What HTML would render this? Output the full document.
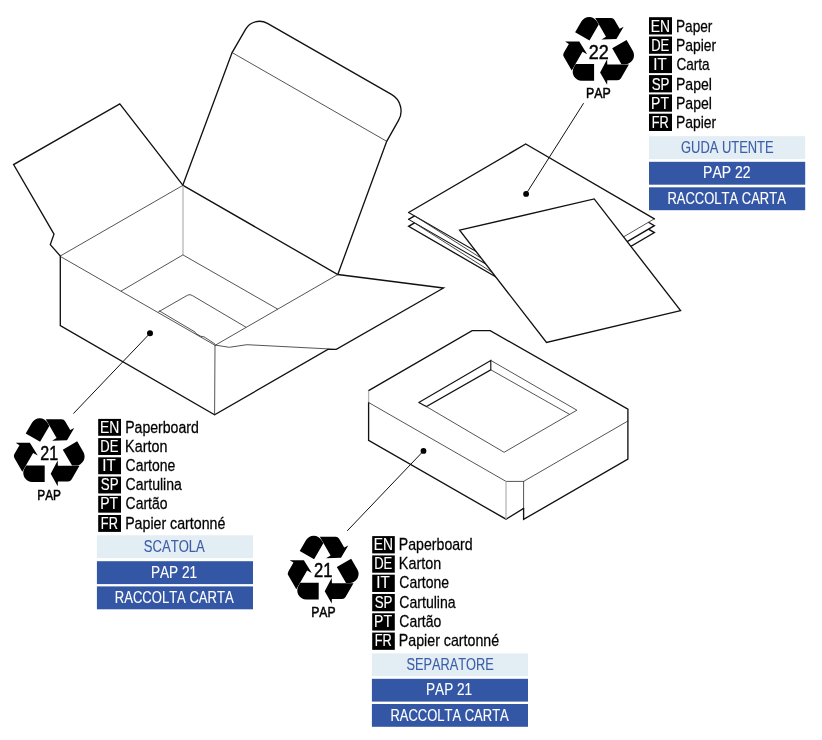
<!DOCTYPE html>
<html><head><meta charset="utf-8"><style>
html,body{margin:0;padding:0;background:#fff;width:822px;height:740px;overflow:hidden;position:relative}
text{font-family:"Liberation Sans", sans-serif;}
svg{will-change:transform}
</style></head><body>
<svg width="822" height="740" viewBox="0 0 822 740" style="position:absolute;left:0;top:0">
<defs><path id="rc" d="M-22.946,13.1 L-4.5,13.1 L-4.5,29.7 L-16.942,29.700 A9.0,9.0 0 0 1 -24.736,16.200 Z M1.5,21.45 L8.5,8.25 L8.7,13.55 L30.3,13.55 L22.361,27.300 A4.0,4.0 0 0 1 18.897,29.300 L8.7,29.3 L8.5,33.85 Z"/></defs>
<g font-family="Liberation Sans, sans-serif" style="font-kerning:none">
<rect x="649.00" y="17.20" width="23.00" height="17.30" fill="#000"/>
<text transform="translate(650.86,31.80) scale(0.8087,1)" font-size="17.15" fill="#fff"  stroke="#fff" stroke-width="0.15" vector-effect="non-scaling-stroke">EN</text>
<text transform="translate(675.98,31.80) scale(0.7963,1)" font-size="17.15" fill="#000"  stroke="#000" stroke-width="0.25" vector-effect="non-scaling-stroke">Paper</text>
<rect x="649.00" y="36.50" width="23.00" height="17.30" fill="#000"/>
<text transform="translate(651.18,51.10) scale(0.7610,1)" font-size="17.15" fill="#fff"  stroke="#fff" stroke-width="0.15" vector-effect="non-scaling-stroke">DE</text>
<text transform="translate(675.96,51.10) scale(0.8123,1)" font-size="17.15" fill="#000"  stroke="#000" stroke-width="0.25" vector-effect="non-scaling-stroke">Papier</text>
<rect x="649.00" y="55.80" width="23.00" height="17.30" fill="#000"/>
<text transform="translate(653.25,70.40) scale(0.8820,1)" font-size="17.15" fill="#fff"  stroke="#fff" stroke-width="0.15" vector-effect="non-scaling-stroke">IT</text>
<text transform="translate(676.41,70.40) scale(0.7938,1)" font-size="17.15" fill="#000"  stroke="#000" stroke-width="0.25" vector-effect="non-scaling-stroke">Carta</text>
<rect x="649.00" y="75.10" width="23.00" height="17.30" fill="#000"/>
<text transform="translate(651.64,89.70) scale(0.7784,1)" font-size="17.15" fill="#fff"  stroke="#fff" stroke-width="0.15" vector-effect="non-scaling-stroke">SP</text>
<text transform="translate(675.95,89.70) scale(0.8206,1)" font-size="17.15" fill="#000"  stroke="#000" stroke-width="0.25" vector-effect="non-scaling-stroke">Papel</text>
<rect x="649.00" y="94.40" width="23.00" height="17.30" fill="#000"/>
<text transform="translate(651.10,109.00) scale(0.8202,1)" font-size="17.15" fill="#fff"  stroke="#fff" stroke-width="0.15" vector-effect="non-scaling-stroke">PT</text>
<text transform="translate(675.95,109.00) scale(0.8206,1)" font-size="17.15" fill="#000"  stroke="#000" stroke-width="0.25" vector-effect="non-scaling-stroke">Papel</text>
<rect x="649.00" y="113.70" width="23.00" height="17.30" fill="#000"/>
<text transform="translate(651.75,128.30) scale(0.7454,1)" font-size="17.15" fill="#fff"  stroke="#fff" stroke-width="0.15" vector-effect="non-scaling-stroke">FR</text>
<text transform="translate(675.96,128.30) scale(0.8123,1)" font-size="17.15" fill="#000"  stroke="#000" stroke-width="0.25" vector-effect="non-scaling-stroke">Papier</text>
<rect x="649.00" y="136.20" width="156.20" height="22.90" fill="#e3edf4"/>
<text transform="translate(681.05,152.80) scale(0.7533,1)" font-size="17.15" fill="#3d5ea8"  stroke="#3d5ea8" stroke-width="0.12" vector-effect="non-scaling-stroke">GUDA UTENTE</text>
<rect x="649.00" y="161.80" width="156.20" height="22.90" fill="#3457a5"/>
<text transform="translate(703.05,178.40) scale(0.8158,1)" font-size="17.15" fill="#fff"  stroke="#fff" stroke-width="0.12" vector-effect="non-scaling-stroke">PAP 22</text>
<rect x="649.00" y="187.30" width="156.20" height="22.90" fill="#3457a5"/>
<text transform="translate(667.43,203.90) scale(0.7582,1)" font-size="17.15" fill="#fff"  stroke="#fff" stroke-width="0.12" vector-effect="non-scaling-stroke">RACCOLTA CARTA</text>
<rect x="98.20" y="418.90" width="22.80" height="16.90" fill="#000"/>
<text transform="translate(99.96,432.60) scale(0.8227,1)" font-size="16.86" fill="#fff"  stroke="#fff" stroke-width="0.15" vector-effect="non-scaling-stroke">EN</text>
<text transform="translate(125.14,432.60) scale(0.8372,1)" font-size="16.86" fill="#000"  stroke="#000" stroke-width="0.25" vector-effect="non-scaling-stroke">Paperboard</text>
<rect x="98.20" y="438.12" width="22.80" height="16.90" fill="#000"/>
<text transform="translate(100.28,451.82) scale(0.7741,1)" font-size="16.86" fill="#fff"  stroke="#fff" stroke-width="0.15" vector-effect="non-scaling-stroke">DE</text>
<text transform="translate(125.12,451.82) scale(0.8517,1)" font-size="16.86" fill="#000"  stroke="#000" stroke-width="0.25" vector-effect="non-scaling-stroke">Karton</text>
<rect x="98.20" y="457.34" width="22.80" height="16.90" fill="#000"/>
<text transform="translate(102.35,471.04) scale(0.8972,1)" font-size="16.86" fill="#fff"  stroke="#fff" stroke-width="0.15" vector-effect="non-scaling-stroke">IT</text>
<text transform="translate(125.59,471.04) scale(0.8291,1)" font-size="16.86" fill="#000"  stroke="#000" stroke-width="0.25" vector-effect="non-scaling-stroke">Cartone</text>
<rect x="98.20" y="476.56" width="22.80" height="16.90" fill="#000"/>
<text transform="translate(100.74,490.26) scale(0.7919,1)" font-size="16.86" fill="#fff"  stroke="#fff" stroke-width="0.15" vector-effect="non-scaling-stroke">SP</text>
<text transform="translate(125.59,490.26) scale(0.8346,1)" font-size="16.86" fill="#000"  stroke="#000" stroke-width="0.25" vector-effect="non-scaling-stroke">Cartulina</text>
<rect x="98.20" y="495.78" width="22.80" height="16.90" fill="#000"/>
<text transform="translate(100.20,509.48) scale(0.8344,1)" font-size="16.86" fill="#fff"  stroke="#fff" stroke-width="0.15" vector-effect="non-scaling-stroke">PT</text>
<text transform="translate(125.59,509.48) scale(0.8278,1)" font-size="16.86" fill="#000"  stroke="#000" stroke-width="0.25" vector-effect="non-scaling-stroke">Cartão</text>
<rect x="98.20" y="515.00" width="22.80" height="16.90" fill="#000"/>
<text transform="translate(100.85,528.70) scale(0.7582,1)" font-size="16.86" fill="#fff"  stroke="#fff" stroke-width="0.15" vector-effect="non-scaling-stroke">FR</text>
<text transform="translate(125.13,528.70) scale(0.8426,1)" font-size="16.86" fill="#000"  stroke="#000" stroke-width="0.25" vector-effect="non-scaling-stroke">Papier cartonné</text>
<rect x="96.90" y="535.30" width="156.10" height="22.90" fill="#e3edf4"/>
<text transform="translate(143.81,552.40) scale(0.7621,1)" font-size="17.15" fill="#3d5ea8"  stroke="#3d5ea8" stroke-width="0.12" vector-effect="non-scaling-stroke">SCATOLA</text>
<rect x="96.90" y="561.20" width="156.10" height="22.90" fill="#3457a5"/>
<text transform="translate(150.88,577.80) scale(0.7958,1)" font-size="17.15" fill="#fff"  stroke="#fff" stroke-width="0.12" vector-effect="non-scaling-stroke">PAP 21</text>
<rect x="96.90" y="586.40" width="156.10" height="22.90" fill="#3457a5"/>
<text transform="translate(114.83,603.00) scale(0.7607,1)" font-size="17.15" fill="#fff"  stroke="#fff" stroke-width="0.12" vector-effect="non-scaling-stroke">RACCOLTA CARTA</text>
<rect x="372.20" y="536.10" width="22.60" height="17.30" fill="#000"/>
<text transform="translate(373.86,549.80) scale(0.8156,1)" font-size="17.01" fill="#fff"  stroke="#fff" stroke-width="0.15" vector-effect="non-scaling-stroke">EN</text>
<text transform="translate(398.84,549.80) scale(0.8312,1)" font-size="17.01" fill="#000"  stroke="#000" stroke-width="0.25" vector-effect="non-scaling-stroke">Paperboard</text>
<rect x="372.20" y="555.39" width="22.60" height="17.30" fill="#000"/>
<text transform="translate(374.18,569.09) scale(0.7675,1)" font-size="17.01" fill="#fff"  stroke="#fff" stroke-width="0.15" vector-effect="non-scaling-stroke">DE</text>
<text transform="translate(398.82,569.09) scale(0.8465,1)" font-size="17.01" fill="#000"  stroke="#000" stroke-width="0.25" vector-effect="non-scaling-stroke">Karton</text>
<rect x="372.20" y="574.68" width="22.60" height="17.30" fill="#000"/>
<text transform="translate(376.25,588.38) scale(0.8895,1)" font-size="17.01" fill="#fff"  stroke="#fff" stroke-width="0.15" vector-effect="non-scaling-stroke">IT</text>
<text transform="translate(399.29,588.38) scale(0.8237,1)" font-size="17.01" fill="#000"  stroke="#000" stroke-width="0.25" vector-effect="non-scaling-stroke">Cartone</text>
<rect x="372.20" y="593.97" width="22.60" height="17.30" fill="#000"/>
<text transform="translate(374.64,607.67) scale(0.7851,1)" font-size="17.01" fill="#fff"  stroke="#fff" stroke-width="0.15" vector-effect="non-scaling-stroke">SP</text>
<text transform="translate(399.28,607.67) scale(0.8289,1)" font-size="17.01" fill="#000"  stroke="#000" stroke-width="0.25" vector-effect="non-scaling-stroke">Cartulina</text>
<rect x="372.20" y="613.26" width="22.60" height="17.30" fill="#000"/>
<text transform="translate(374.10,626.96) scale(0.8272,1)" font-size="17.01" fill="#fff"  stroke="#fff" stroke-width="0.15" vector-effect="non-scaling-stroke">PT</text>
<text transform="translate(399.29,626.96) scale(0.8228,1)" font-size="17.01" fill="#000"  stroke="#000" stroke-width="0.25" vector-effect="non-scaling-stroke">Cartão</text>
<rect x="372.20" y="632.55" width="22.60" height="17.30" fill="#000"/>
<text transform="translate(374.75,646.25) scale(0.7518,1)" font-size="17.01" fill="#fff"  stroke="#fff" stroke-width="0.15" vector-effect="non-scaling-stroke">FR</text>
<text transform="translate(398.83,646.25) scale(0.8362,1)" font-size="17.01" fill="#000"  stroke="#000" stroke-width="0.25" vector-effect="non-scaling-stroke">Papier cartonné</text>
<rect x="371.90" y="653.40" width="156.10" height="22.80" fill="#e3edf4"/>
<text transform="translate(406.42,670.00) scale(0.7458,1)" font-size="17.15" fill="#3d5ea8"  stroke="#3d5ea8" stroke-width="0.12" vector-effect="non-scaling-stroke">SEPARATORE</text>
<rect x="371.90" y="678.80" width="156.10" height="22.80" fill="#3457a5"/>
<text transform="translate(425.98,695.40) scale(0.7940,1)" font-size="17.15" fill="#fff"  stroke="#fff" stroke-width="0.12" vector-effect="non-scaling-stroke">PAP 21</text>
<rect x="371.90" y="704.00" width="156.10" height="22.80" fill="#3457a5"/>
<text transform="translate(390.43,720.60) scale(0.7575,1)" font-size="17.15" fill="#fff"  stroke="#fff" stroke-width="0.12" vector-effect="non-scaling-stroke">RACCOLTA CARTA</text>
<g transform="translate(49.2,452.3)"><use href="#rc"/><use href="#rc" transform="rotate(120)"/><use href="#rc" transform="rotate(240)"/></g>
<text transform="translate(40.29,459.50) scale(0.7942,1)" font-size="20.19" fill="#000"  stroke="#000" stroke-width="0.45" vector-effect="non-scaling-stroke">21</text>
<text transform="translate(37.33,499.70) scale(0.8147,1)" font-size="14.54" fill="#000"  stroke="#000" stroke-width="0.45" vector-effect="non-scaling-stroke">PAP</text>
<g transform="translate(598.6,51.0)"><use href="#rc"/><use href="#rc" transform="rotate(120)"/><use href="#rc" transform="rotate(240)"/></g>
<text transform="translate(588.80,58.60) scale(0.9036,1)" font-size="19.91" fill="#000"  stroke="#000" stroke-width="0.45" vector-effect="non-scaling-stroke">22</text>
<text transform="translate(585.88,97.80) scale(0.8516,1)" font-size="14.54" fill="#000"  stroke="#000" stroke-width="0.45" vector-effect="non-scaling-stroke">PAP</text>
<g transform="translate(323.2,569.7)"><use href="#rc"/><use href="#rc" transform="rotate(120)"/><use href="#rc" transform="rotate(240)"/></g>
<text transform="translate(313.97,576.80) scale(0.8450,1)" font-size="19.62" fill="#000"  stroke="#000" stroke-width="0.45" vector-effect="non-scaling-stroke">21</text>
<text transform="translate(311.20,616.60) scale(0.8204,1)" font-size="14.83" fill="#000"  stroke="#000" stroke-width="0.45" vector-effect="non-scaling-stroke">PAP</text>
<path d="M183.0,185.3 L119.8,103.9 L13.6,164.6 L54.0,234.1 L50.3,244.6 L60.3,256.0 L60.3,325.7 L214.6,414.8 L328.3,349.2 L336.3,349.3 L443.5,288.0 L337.8,274.5 L183.0,185.3" stroke="#111" stroke-width="1.34" fill="none" stroke-linejoin="miter" stroke-linecap="round"/>
<path d="M182.7,185.6 L232.1,52.6 L245.55,29.31 A16,16 0 0 1 267.43,23.41 L391.41,94.45 A19,19 0 0 1 398.53,120.43 L386.7,141.3 L337.8,274.5" stroke="#111" stroke-width="1.34" fill="none" stroke-linejoin="miter" stroke-linecap="round"/>
<path d="M232.1,52.6 L386.7,141.3" stroke="#2a2a2a" stroke-width="0.8" fill="none" stroke-linecap="round"/>
<path d="M60.3,256.0 L183.0,185.3" stroke="#2a2a2a" stroke-width="0.8" fill="none" stroke-linecap="round"/>
<path d="M183.0,185.8 L183.0,254.9" stroke="#b6b6b6" stroke-width="1.3" fill="none"/>
<path d="M121.2,291.0 L182.9,254.9 L277.5,309.0" stroke="#2a2a2a" stroke-width="0.8" fill="none" stroke-linecap="round"/>
<path d="M60.3,256.4 L215.1,345.3 L337.8,274.5" stroke="#2a2a2a" stroke-width="0.8" fill="none" stroke-linecap="round"/>
<path d="M215.0,345.1 L214.6,414.8" stroke="#2a2a2a" stroke-width="0.8" fill="none" stroke-linecap="round"/>
<path d="M158.6,311.8 L187.5,295.2 L190.0,294.6 L192.8,295.8 L245.8,327.1" stroke="#2a2a2a" stroke-width="0.8" fill="none" stroke-linecap="round"/>
<path d="M159.5,311.0 L195.0,332.0 L196.0,333.6 L201.0,336.4 L204.0,336.8 L214.5,343.6" stroke="#2a2a2a" stroke-width="0.8" fill="none" stroke-linecap="round"/>
<path d="M215.1,345.1 L229.3,347.3 L246.9,344.7 L328.3,348.9" stroke="#2a2a2a" stroke-width="0.8" fill="none" stroke-linecap="round"/>
<circle cx="150.0" cy="333.3" r="3.0" fill="#000"/>
<path d="M150.0,333.3 L73.4,413.6" stroke="#111" stroke-width="1.0" fill="none"/>
<path d="M525.7,157.8 L654.4,232.60000000000002 L537.2,301.3 L408.6,226.3 Z" fill="#fff" stroke="none"/>
<path d="M498.6,278.5 L408.6,226.3 L525.7,157.8 L654.4,232.60000000000002 L537.2,301.3" stroke="#111" stroke-width="1.34" fill="none" stroke-linejoin="miter" stroke-linecap="round"/>
<path d="M525.7,150.9 L654.4,225.70000000000002 L537.2,294.4 L408.6,219.4 Z" fill="#fff" stroke="none"/>
<path d="M408.6,219.4 L525.7,150.9 L654.4,225.70000000000002 L537.2,294.4" stroke="#111" stroke-width="1.34" fill="none" stroke-linejoin="miter" stroke-linecap="round"/>
<path d="M525.7,144.0 L654.4,218.8 L537.2,287.5 L408.6,212.5 Z" fill="#fff" stroke="none"/>
<path d="M408.6,212.5 L525.7,144.0 L654.4,218.8" stroke="#111" stroke-width="1.34" fill="none" stroke-linejoin="miter" stroke-linecap="round"/>
<path d="M654.4,218.8 L537.2,287.5" stroke="#2a2a2a" stroke-width="0.8" fill="none" stroke-linecap="round"/>
<path d="M408.6,212.5 L503.6,267.315" stroke="#111" stroke-width="1.04" fill="none" stroke-linejoin="miter" stroke-linecap="round"/>
<path d="M414.4,215.7 L509.4,276.12" stroke="#2a2a2a" stroke-width="0.85" fill="none"/>
<path d="M408.6,219.4 L503.6,274.21500000000003" stroke="#111" stroke-width="1.04" fill="none" stroke-linejoin="miter" stroke-linecap="round"/>
<path d="M414.4,222.9 L509.4,283.32" stroke="#2a2a2a" stroke-width="0.85" fill="none"/>
<circle cx="526.1" cy="193.9" r="2.9" fill="#000"/>
<path d="M526.1,193.9 L583.6,103.2" stroke="#111" stroke-width="1.0" fill="none"/>
<path d="M459.6,230.2 L594.2,198.9 L680.6,310.7 L546.5,342.5 Z" fill="#fff" stroke="#111" stroke-width="1.34"  stroke-linejoin="miter" stroke-linecap="round"/>
<path d="M368.6,390.6 L472.1,330.6 L490.2,330.6 L627.9,409.2 L627.9,459.2 L523.6,519.4 L523.6,508.4 L506.0,519.2 L368.6,440.3 Z" fill="#fff" stroke="none"/>
<path d="M368.6,402.5 L368.6,440.3 L506.0,519.2 L523.6,508.4" stroke="#111" stroke-width="1.34" fill="none" stroke-linejoin="miter" stroke-linecap="round"/>
<path d="M523.6,508.4 L523.6,519.4 L627.9,459.2 L627.9,409.2 L490.2,330.6 L472.1,330.6 L368.6,390.6" stroke="#111" stroke-width="1.34" fill="none" stroke-linejoin="miter" stroke-linecap="round"/>
<path d="M368.6,390.6 L368.6,402.5" stroke="#b6b6b6" stroke-width="1.3" fill="none"/>
<path d="M368.6,402.5 L506.0,481.4 L523.6,481.4 L627.9,421.0" stroke="#2a2a2a" stroke-width="0.8" fill="none" stroke-linecap="round"/>
<path d="M506.0,481.4 L506.0,519.2" stroke="#b6b6b6" stroke-width="1.3" fill="none"/>
<path d="M523.6,481.4 L523.6,508.4" stroke="#2a2a2a" stroke-width="0.8" fill="none" stroke-linecap="round"/>
<path d="M418.8,402.5 L490.8,360.4 L490.8,369.8 L426.4,406.6 L418.8,402.5" stroke="#111" stroke-width="1.14" fill="none" stroke-linejoin="miter" stroke-linecap="round"/>
<path d="M490.8,360.4 L576.9,410.2 L504.1,452.3 L426.4,406.6" stroke="#2a2a2a" stroke-width="0.8" fill="none" stroke-linecap="round"/>
<path d="M490.8,369.8 L569.1,414.1" stroke="#2a2a2a" stroke-width="0.8" fill="none" stroke-linecap="round"/>
<circle cx="423.5" cy="450.9" r="2.9" fill="#000"/>
<path d="M423.5,450.9 L347.2,530.9" stroke="#111" stroke-width="1.0" fill="none"/>
</g></svg>
</body></html>
